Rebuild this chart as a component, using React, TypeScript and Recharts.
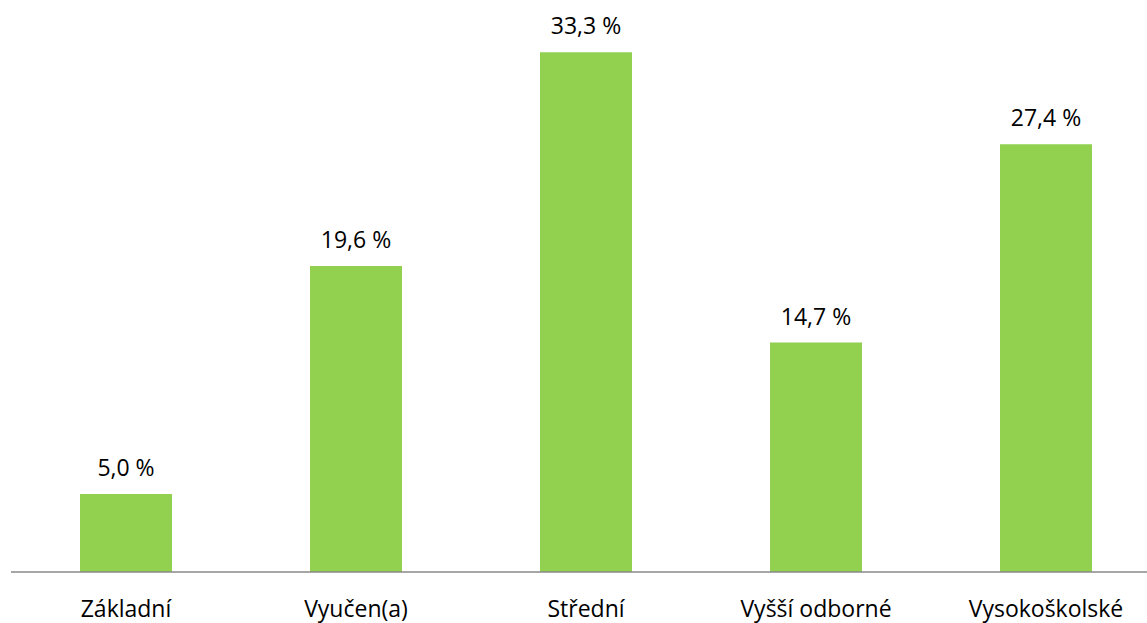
import { BarChart, Bar, XAxis, YAxis, LabelList } from 'recharts';

const categories = ['Základní', 'Vyučen(a)', 'Střední', 'Vyšší odborné', 'Vysokoškolské'];
const shares = [5.0, 19.6, 33.3, 14.7, 27.4];

const data = categories.map((name, i) => ({ name, value: shares[i] }));

const FONT = '"Open Sans", sans-serif';

const formatPct = (v: number) => `${v.toFixed(1).replace('.', ',')} %`;

export default function App() {
  return (
    <div
      style={{
        position: 'absolute',
        left: 0,
        top: 0,
        width: 1147,
        height: 623,
        overflow: 'hidden',
        background: '#fff',
      }}
    >
      <BarChart
        width={1170}
        height={623}
        data={data}
        margin={{ top: 10, left: 11, right: 9, bottom: 0 }}
        barCategoryGap={0}
      >
        <XAxis
          dataKey="name"
          height={51}
          tickLine={false}
          tickMargin={23}
          interval={0}
          axisLine={{ stroke: '#898989', strokeWidth: 1.5 }}
          tick={{ fill: '#000', fontSize: 23, fontFamily: FONT }}
        />
        <YAxis hide domain={[0, 36]} />
        <Bar dataKey="value" fill="#92D050" barSize={92} isAnimationActive={false}>
          <LabelList
            dataKey="value"
            position="top"
            offset={18}
            formatter={(v: number) => formatPct(v)}
            style={{ fill: '#000', fontSize: 23, fontFamily: FONT }}
          />
        </Bar>
      </BarChart>
    </div>
  );
}
